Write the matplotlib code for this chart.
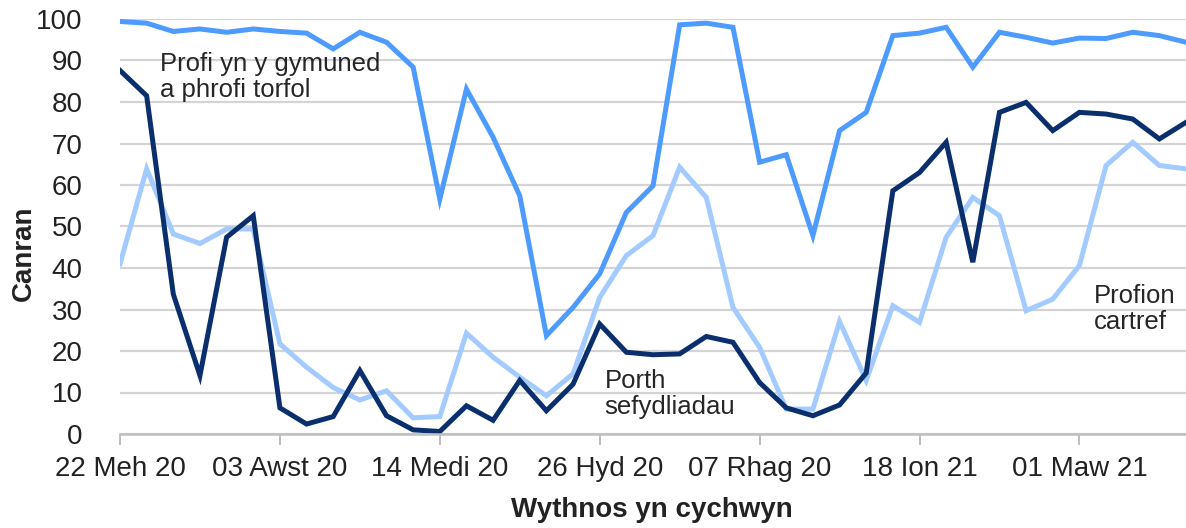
import matplotlib
matplotlib.use("Agg")
import matplotlib.pyplot as plt
import numpy as np

plt.rcParams['font.family'] = ['Liberation Sans', 'DejaVu Sans']

tick_labels = ["22 Meh 20", "03 Awst 20", "14 Medi 20", "26 Hyd 20",
               "07 Rhag 20", "18 Ion 21", "01 Maw 21"]

community = [99.4, 99.0, 97.0, 97.6, 96.8, 97.6, 97.0, 96.6, 92.8, 96.8,
             94.4, 88.4, 56.6, 83.1, 71.5, 57.4, 23.7, 30.5, 38.6, 53.4,
             59.8, 98.6, 99.0, 98.0, 65.5, 67.3, 47.8, 73.1, 77.5, 96.0,
             96.6, 98.0, 88.4, 96.8, 95.6, 94.2, 95.4, 95.3, 96.8, 96.0,
             94.4]
institutions = [87.6, 81.5, 33.7, 14.1, 47.4, 52.6, 6.3, 2.4, 4.2, 15.3,
                4.4, 1.0, 0.6, 6.8, 3.3, 12.9, 5.6, 12.0, 26.5, 19.7,
                19.1, 19.3, 23.5, 22.1, 12.4, 6.3, 4.4, 7.0, 14.7, 58.6,
                63.0, 70.3, 41.4, 77.5, 79.9, 73.1, 77.5, 77.1, 75.9, 71.1,
                75.1]
home = [41.0, 63.9, 48.2, 45.9, 49.4, 49.4, 21.7, 16.1, 11.2, 8.2,
        10.4, 3.9, 4.2, 24.3, 18.5, 13.7, 9.2, 14.5, 32.9, 43.0,
        47.8, 64.3, 57.0, 30.5, 20.9, 6.0, 6.0, 27.1, 12.9, 30.9,
        26.9, 47.4, 57.0, 52.6, 29.7, 32.5, 40.6, 64.7, 70.3, 64.7,
        63.9]

weeks = np.arange(len(community))

fig = plt.figure(figsize=(11.86, 5.28), dpi=100)
ax = fig.add_axes([120/1186, 94/528, 1 - 120/1186, 415/528])

c_light = "#a3cbff"
c_mid = "#4d9bff"
c_dark = "#0a2f6c"
lw = 3.6
ax.plot(weeks, home, color=c_light, lw=lw, solid_joinstyle='miter', zorder=3)
ax.plot(weeks, community, color=c_mid, lw=lw, solid_joinstyle='miter', zorder=4)
ax.plot(weeks, institutions, color=c_dark, lw=lw, solid_joinstyle='miter', zorder=5)

ax.set_xlim(0, 40)
ax.set_ylim(0, 100)
ax.set_yticks(np.arange(0, 101, 10))
ax.yaxis.grid(True, color="#d4d4d4", lw=1.6)
ax.set_axisbelow(True)
ax.tick_params(axis='y', length=0, pad=27, labelsize=20, colors="#222222")
ax.set_xticks(np.arange(0, 37, 6))
ax.set_xticklabels(tick_labels)
ax.tick_params(axis='x', length=8, width=1.4, color="#bfbfbf", direction='out',
               pad=8, labelsize=20, labelcolor="#222222")
for s in ['top', 'right', 'left']:
    ax.spines[s].set_visible(False)
ax.spines['bottom'].set_color("#bfbfbf")
ax.spines['bottom'].set_linewidth(1.8)
ax.spines['bottom'].set_zorder(6)

fig.text(24/1186, 1 - 253/528, "Canran", rotation=90, fontsize=20,
         fontweight='bold', ha='center', va='center', color="#222222")
fig.text(652/1186, 1 - 510/528, "Wythnos yn cychwyn", fontsize=20,
         fontweight='bold', ha='center', va='center', color="#222222")

tc = "#262626"
ax.text((160 - 120)/26.67, (434 - 77)/4.15, "Profi yn y gymuned\na phrofi torfol",
        fontsize=18.5, ha='left', va='center', color=tc, linespacing=1.15, zorder=7)
ax.text((605 - 120)/26.67, (434 - 394)/4.15, "Porth\nsefydliadau",
        fontsize=18.5, ha='left', va='center', color=tc, linespacing=1.15, zorder=7)
ax.text((1095 - 120)/26.67, (434 - 309)/4.15, "Profion\ncartref",
        fontsize=18.5, ha='left', va='center', color=tc, linespacing=1.15, zorder=7)

fig.savefig("out.png", dpi=100)
